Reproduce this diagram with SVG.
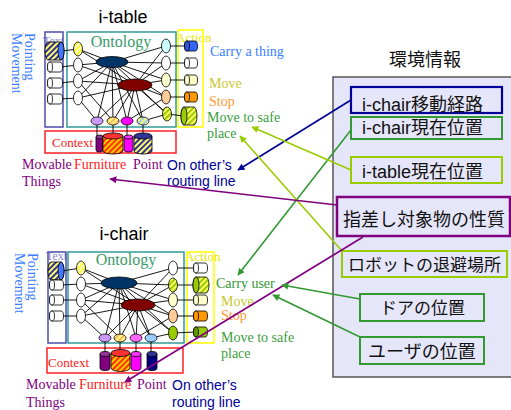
<svg xmlns="http://www.w3.org/2000/svg" width="511" height="410" viewBox="0 0 511 410">
<style>
.title{font-family:"Liberation Sans",Arial,sans-serif;font-size:18px;fill:#000;text-anchor:middle}
.serif{font-family:"Liberation Serif","Times New Roman",serif}
.sans{font-family:"Liberation Sans",Arial,sans-serif}
.jp{font-family:"Liberation Sans","Noto Sans CJK JP",sans-serif;fill:#111}
.web line{stroke:#000;stroke-width:0.9}
.ln{stroke:#000;stroke-width:1}
.o{stroke:#000;stroke-width:0.8}
.conn{fill:none;stroke-width:1.6}
</style>
<defs>
<pattern id="pYB" width="4" height="4" patternUnits="userSpaceOnUse" patternTransform="rotate(45)"><rect width="4" height="4" fill="#ffff66"/><rect width="2" height="4" fill="#333399"/></pattern>
<pattern id="pRY" width="4" height="4" patternUnits="userSpaceOnUse" patternTransform="rotate(45)"><rect width="4" height="4" fill="#ffcc00"/><rect width="2" height="4" fill="#ff3300"/></pattern>
<pattern id="pGY" width="4" height="4" patternUnits="userSpaceOnUse" patternTransform="rotate(45)"><rect width="4" height="4" fill="#ffff66"/><rect width="2" height="4" fill="#99cc00"/></pattern>
<pattern id="pPY" width="4" height="4" patternUnits="userSpaceOnUse" patternTransform="rotate(45)"><rect width="4" height="4" fill="#ffff66"/><rect width="2" height="4" fill="#ffb380"/></pattern>
<pattern id="pBY" width="4" height="4" patternUnits="userSpaceOnUse" patternTransform="rotate(45)"><rect width="4" height="4" fill="#ffff66"/><rect width="2" height="4" fill="#99ccff"/></pattern>
<pattern id="pYW" width="4" height="4" patternUnits="userSpaceOnUse" patternTransform="rotate(45)"><rect width="4" height="4" fill="#ffffcc"/><rect width="2" height="4" fill="#ffff33"/></pattern>
<marker id="aNavy" viewBox="0 0 10 10" refX="9" refY="5" markerWidth="8" markerHeight="7" orient="auto" markerUnits="userSpaceOnUse"><path d="M0,0 L10,5 L0,10 z" fill="#000099"/></marker>
<marker id="aGreen" viewBox="0 0 10 10" refX="9" refY="5" markerWidth="8" markerHeight="7" orient="auto" markerUnits="userSpaceOnUse"><path d="M0,0 L10,5 L0,10 z" fill="#339933"/></marker>
<marker id="aYG" viewBox="0 0 10 10" refX="9" refY="5" markerWidth="8" markerHeight="7" orient="auto" markerUnits="userSpaceOnUse"><path d="M0,0 L10,5 L0,10 z" fill="#99cc00"/></marker>
<marker id="aPurple" viewBox="0 0 10 10" refX="9" refY="5" markerWidth="8" markerHeight="7" orient="auto" markerUnits="userSpaceOnUse"><path d="M0,0 L10,5 L0,10 z" fill="#800080"/></marker>
</defs>
<rect width="511" height="410" fill="#fff"/>

<!-- ================= i-table ================= -->
<g id="itable">
<text class="title" x="123" y="23">i-table</text>
<text class="serif" font-size="14" fill="#3b7dff" transform="translate(25,33) rotate(90)">Pointing</text>
<text class="serif" font-size="14" fill="#3b7dff" transform="translate(12,33) rotate(90)">Movement</text>
<text class="serif" font-size="12" fill="#8888cc" x="43" y="45">Text</text>
<rect x="45" y="32" width="18" height="95" fill="none" stroke="#4d4dab" stroke-width="1.5"/>
<rect x="67" y="32" width="109" height="95" fill="none" stroke="#339999" stroke-width="1.5"/>
<text class="serif" font-size="13" fill="#e6e600" x="176" y="42">Action</text>
<rect x="178" y="30" width="25" height="97" fill="none" stroke="#ffff00" stroke-width="1.5"/>
<text class="serif" font-size="16" fill="#3a9a6a" x="121" y="47" text-anchor="middle">Ontology</text>
<rect x="45" y="131" width="131" height="22" fill="none" stroke="#ff2020" stroke-width="1.5"/>
<text class="serif" font-size="13" fill="#ff2020" x="52" y="147">Context</text>
<g class="web">
<line x1="78" y1="49" x2="112" y2="62"/><line x1="78" y1="65" x2="112" y2="62"/><line x1="78" y1="81" x2="112" y2="62"/><line x1="78" y1="98" x2="112" y2="62"/>
<line x1="78" y1="49" x2="135" y2="85"/><line x1="78" y1="65" x2="135" y2="85"/><line x1="78" y1="81" x2="135" y2="85"/><line x1="78" y1="98" x2="135" y2="85"/>
<line x1="166" y1="46" x2="112" y2="62"/><line x1="166" y1="63" x2="112" y2="62"/><line x1="166" y1="80" x2="112" y2="62"/><line x1="166" y1="97" x2="112" y2="62"/><line x1="167" y1="114" x2="112" y2="62"/>
<line x1="166" y1="46" x2="135" y2="85"/><line x1="166" y1="63" x2="135" y2="85"/><line x1="166" y1="80" x2="135" y2="85"/><line x1="166" y1="97" x2="135" y2="85"/><line x1="167" y1="114" x2="135" y2="85"/>
<line x1="112" y1="62" x2="97" y2="121"/><line x1="112" y1="62" x2="113" y2="121"/><line x1="112" y1="62" x2="127" y2="121"/><line x1="112" y1="62" x2="143" y2="121"/>
<line x1="135" y1="85" x2="97" y2="121"/><line x1="135" y1="85" x2="113" y2="121"/><line x1="135" y1="85" x2="127" y2="121"/><line x1="135" y1="85" x2="143" y2="121"/>
<line x1="78" y1="98" x2="97" y2="121"/><line x1="78" y1="81" x2="113" y2="121"/><line x1="167" y1="114" x2="143" y2="121"/><line x1="166" y1="97" x2="127" y2="121"/>
<line x1="62" y1="51" x2="78" y2="49"/><line x1="60" y1="67" x2="78" y2="65"/><line x1="60" y1="83" x2="78" y2="81"/><line x1="60" y1="99" x2="78" y2="98"/>
<line x1="166" y1="46" x2="187" y2="46"/><line x1="166" y1="63" x2="187" y2="63"/><line x1="166" y1="80" x2="187" y2="80"/><line x1="166" y1="97" x2="187" y2="97"/><line x1="167" y1="114" x2="184" y2="116"/>
<line x1="97" y1="121" x2="97" y2="140"/><line x1="113" y1="121" x2="113" y2="140"/><line x1="127" y1="121" x2="127" y2="140"/><line x1="143" y1="121" x2="143" y2="140"/>
</g>
<!-- left cylinders -->
<path class="o" d="M48,42 H61 A3,9 0 0 1 61,60 H48 A3,9 0 0 1 48,42 Z" fill="url(#pYB)"/>
<ellipse class="o" cx="61" cy="51" rx="3" ry="9" fill="#4477ff"/>
<path class="o" d="M50,62 H60 A2.5,5 0 0 1 60,72 H50 A2.5,5 0 0 1 50,62 Z" fill="#fff"/><ellipse class="o" cx="50" cy="67" rx="2.5" ry="5" fill="#fff"/>
<path class="o" d="M50,78 H60 A2.5,5 0 0 1 60,88 H50 A2.5,5 0 0 1 50,78 Z" fill="#fff"/><ellipse class="o" cx="50" cy="83" rx="2.5" ry="5" fill="#fff"/>
<path class="o" d="M50,94 H60 A2.5,5 0 0 1 60,104 H50 A2.5,5 0 0 1 50,94 Z" fill="#fff"/><ellipse class="o" cx="50" cy="99" rx="2.5" ry="5" fill="#fff"/>
<!-- left ellipses -->
<ellipse class="o" cx="78" cy="49" rx="4.5" ry="7" fill="url(#pYW)"/>
<ellipse class="o" cx="78" cy="65" rx="4.5" ry="7" fill="#fff"/>
<ellipse class="o" cx="78" cy="81" rx="4.5" ry="7" fill="#fff"/>
<ellipse class="o" cx="78" cy="98" rx="4.5" ry="7" fill="#fff"/>
<ellipse class="o" cx="112" cy="62" rx="16" ry="5.5" fill="#003366"/>
<ellipse class="o" cx="135" cy="85" rx="17" ry="6" fill="#800000"/>
<!-- right ellipses -->
<ellipse class="o" cx="166" cy="46" rx="4.5" ry="7" fill="#ccffff"/>
<ellipse class="o" cx="166" cy="63" rx="4.5" ry="7" fill="#fff"/>
<ellipse class="o" cx="166" cy="80" rx="4.5" ry="7" fill="#ffffcc"/>
<ellipse class="o" cx="166" cy="97" rx="4.5" ry="7" fill="#ffcc99"/>
<ellipse class="o" cx="167" cy="114" rx="4.5" ry="7" fill="url(#pGY)"/>
<!-- right cylinders -->
<path class="o" d="M187,41 H195 A2.5,5 0 0 1 195,51 H187 A2.5,5 0 0 1 187,41 Z" fill="#3366ff"/><ellipse class="o" cx="187" cy="46" rx="2.5" ry="5" fill="#3355dd"/>
<path class="o" d="M187,58 H195 A2.5,5 0 0 1 195,68 H187 A2.5,5 0 0 1 187,58 Z" fill="#fff"/><ellipse class="o" cx="187" cy="63" rx="2.5" ry="5" fill="#fff"/>
<path class="o" d="M187,75 H195 A2.5,5 0 0 1 195,85 H187 A2.5,5 0 0 1 187,75 Z" fill="#ffffcc"/><ellipse class="o" cx="187" cy="80" rx="2.5" ry="5" fill="#ffffcc"/>
<path class="o" d="M187,92 H195 A2.5,5 0 0 1 195,102 H187 A2.5,5 0 0 1 187,92 Z" fill="#ff9900"/><ellipse class="o" cx="187" cy="97" rx="2.5" ry="5" fill="#ff9900"/>
<path class="o" d="M184,107 H194 A3,9 0 0 1 194,125 H184 A3,9 0 0 1 184,107 Z" fill="url(#pGY)"/><ellipse class="o" cx="184" cy="116" rx="3" ry="9" fill="#99cc00"/>
<!-- bottom ellipses -->
<ellipse class="o" cx="97" cy="121" rx="6" ry="4" fill="#cc99ff"/>
<ellipse class="o" cx="113" cy="121" rx="6" ry="4" fill="url(#pPY)"/>
<ellipse class="o" cx="127" cy="121" rx="6" ry="4" fill="#ff00ff"/>
<ellipse class="o" cx="143" cy="121" rx="6" ry="4" fill="url(#pBY)"/>
<!-- context cylinders -->
<path class="o" d="M96,137 V150 A3.5,2 0 0 0 103,150 V137 Z" fill="#800080"/><ellipse class="o" cx="99.5" cy="137" rx="3.5" ry="2" fill="#993399"/>
<path class="o" d="M103,136 V151 A10,3 0 0 0 123,151 V136 Z" fill="url(#pRY)"/><ellipse class="o" cx="113" cy="136" rx="10" ry="3" fill="#ff3333"/>
<path class="o" d="M124,137 V150 A4.5,2 0 0 0 133,150 V137 Z" fill="#ff00ff"/><ellipse class="o" cx="128.5" cy="137" rx="4.5" ry="2" fill="#ff33ff"/>
<path class="o" d="M134,136 V151 A9,3 0 0 0 152,151 V136 Z" fill="url(#pYB)"/><ellipse class="o" cx="143" cy="136" rx="9" ry="3" fill="#333399"/>
<!-- labels -->
<text class="serif" font-size="14" fill="#3a7fff" x="210" y="56">Carry a thing</text>
<text class="serif" font-size="14" fill="#c8c832" x="209" y="88">Move</text>
<text class="serif" font-size="14" fill="#ff9933" x="209" y="106">Stop</text>
<text class="serif" font-size="14" fill="#3aa040" x="207" y="122">Move to safe</text>
<text class="serif" font-size="14" fill="#3aa040" x="207" y="138">place</text>
<text class="serif" font-size="14" fill="#800080" x="22" y="169">Movable</text>
<text class="serif" font-size="14" fill="#800080" x="22" y="186">Things</text>
<text class="serif" font-size="14" fill="#ff2020" x="74" y="169">Furniture</text>
<text class="serif" font-size="14" fill="#800080" x="133" y="169">Point</text>
<text class="sans" font-size="14" fill="#000099" x="167" y="170">On other’s</text>
<text class="sans" font-size="14" fill="#000099" x="167" y="186">routing line</text>
</g>

<!-- ================= i-chair ================= -->
<g id="ichair">
<text class="title" x="124" y="240">i-chair</text>
<text class="serif" font-size="14" fill="#3b7dff" transform="translate(28,253) rotate(90)">Pointing</text>
<text class="serif" font-size="14" fill="#3b7dff" transform="translate(15,253) rotate(90)">Movement</text>
<text class="serif" font-size="12" fill="#8888cc" x="46" y="260">Text</text>
<rect x="48" y="252" width="18" height="91" fill="none" stroke="#4d4dab" stroke-width="1.5"/>
<rect x="68" y="252" width="116" height="91" fill="none" stroke="#339999" stroke-width="1.5"/>
<text class="serif" font-size="13" fill="#e6e600" x="185" y="261">Action</text>
<rect x="187" y="252" width="27" height="91" fill="none" stroke="#ffff00" stroke-width="1.5"/>
<text class="serif" font-size="16" fill="#3a9a6a" x="126" y="265" text-anchor="middle">Ontology</text>
<rect x="47" y="348" width="136" height="25" fill="none" stroke="#ff2020" stroke-width="1.5"/>
<text class="serif" font-size="13" fill="#ff2020" x="48" y="367">Context</text>
<g class="web">
<line x1="81" y1="268" x2="119" y2="283"/><line x1="81" y1="284" x2="119" y2="283"/><line x1="81" y1="300" x2="119" y2="283"/><line x1="81" y1="316" x2="119" y2="283"/>
<line x1="81" y1="268" x2="138" y2="305"/><line x1="81" y1="284" x2="138" y2="305"/><line x1="81" y1="300" x2="138" y2="305"/><line x1="81" y1="316" x2="138" y2="305"/>
<line x1="173" y1="268" x2="119" y2="283"/><line x1="173" y1="285" x2="119" y2="283"/><line x1="173" y1="300" x2="119" y2="283"/><line x1="173" y1="316" x2="119" y2="283"/><line x1="173" y1="333" x2="119" y2="283"/>
<line x1="173" y1="268" x2="138" y2="305"/><line x1="173" y1="285" x2="138" y2="305"/><line x1="173" y1="300" x2="138" y2="305"/><line x1="173" y1="316" x2="138" y2="305"/><line x1="173" y1="333" x2="138" y2="305"/>
<line x1="119" y1="283" x2="105" y2="338"/><line x1="119" y1="283" x2="120" y2="338"/><line x1="119" y1="283" x2="136" y2="338"/><line x1="119" y1="283" x2="151" y2="338"/>
<line x1="138" y1="305" x2="105" y2="338"/><line x1="138" y1="305" x2="120" y2="338"/><line x1="138" y1="305" x2="136" y2="338"/><line x1="138" y1="305" x2="151" y2="338"/>
<line x1="81" y1="316" x2="105" y2="338"/><line x1="81" y1="300" x2="120" y2="338"/><line x1="173" y1="333" x2="151" y2="338"/><line x1="173" y1="316" x2="136" y2="338"/>
<line x1="62" y1="271" x2="81" y2="268"/><line x1="61" y1="285" x2="81" y2="284"/><line x1="61" y1="300" x2="81" y2="300"/><line x1="61" y1="316" x2="81" y2="316"/>
<line x1="173" y1="268" x2="196" y2="268"/><line x1="173" y1="285" x2="196" y2="285"/><line x1="173" y1="300" x2="196" y2="300"/><line x1="173" y1="316" x2="196" y2="316"/><line x1="173" y1="333" x2="196" y2="332"/>
<line x1="105" y1="338" x2="105" y2="356"/><line x1="120" y1="338" x2="120" y2="356"/><line x1="136" y1="338" x2="136" y2="356"/><line x1="151" y1="338" x2="151" y2="356"/>
</g>
<path class="o" d="M51,262 H61 A3,9 0 0 1 61,280 H51 A3,9 0 0 1 51,262 Z" fill="url(#pYB)"/>
<ellipse class="o" cx="61" cy="271" rx="3" ry="9" fill="#4477ff"/>
<path class="o" d="M52,280 H61 A2.5,5 0 0 1 61,290 H52 A2.5,5 0 0 1 52,280 Z" fill="#fff"/><ellipse class="o" cx="52" cy="285" rx="2.5" ry="5" fill="#fff"/>
<path class="o" d="M52,295 H61 A2.5,5 0 0 1 61,305 H52 A2.5,5 0 0 1 52,295 Z" fill="#fff"/><ellipse class="o" cx="52" cy="300" rx="2.5" ry="5" fill="#fff"/>
<path class="o" d="M52,311 H61 A2.5,5 0 0 1 61,321 H52 A2.5,5 0 0 1 52,311 Z" fill="#fff"/><ellipse class="o" cx="52" cy="316" rx="2.5" ry="5" fill="#fff"/>
<ellipse class="o" cx="81" cy="268" rx="4.5" ry="7" fill="url(#pYW)"/>
<ellipse class="o" cx="81" cy="284" rx="4.5" ry="7" fill="#fff"/>
<ellipse class="o" cx="81" cy="300" rx="4.5" ry="7" fill="#fff"/>
<ellipse class="o" cx="81" cy="316" rx="4.5" ry="7" fill="#fff"/>
<ellipse class="o" cx="119" cy="283" rx="18" ry="6" fill="#003366"/>
<ellipse class="o" cx="138" cy="305" rx="17" ry="6" fill="#800000"/>
<ellipse class="o" cx="173" cy="268" rx="4.5" ry="7" fill="#fff"/>
<ellipse class="o" cx="173" cy="285" rx="4.5" ry="7" fill="url(#pGY)"/>
<ellipse class="o" cx="173" cy="300" rx="4.5" ry="7" fill="#ffffcc"/>
<ellipse class="o" cx="173" cy="316" rx="4.5" ry="7" fill="#ffcc99"/>
<ellipse class="o" cx="173" cy="333" rx="4.5" ry="7" fill="#99cc00"/>
<path class="o" d="M196,263 H205 A2.5,5 0 0 1 205,273 H196 A2.5,5 0 0 1 196,263 Z" fill="#fff"/><ellipse class="o" cx="196" cy="268" rx="2.5" ry="5" fill="#fff"/>
<path class="o" d="M196,277 H206 A3,8 0 0 1 206,293 H196 A3,8 0 0 1 196,277 Z" fill="url(#pGY)"/><ellipse class="o" cx="196" cy="285" rx="3" ry="8" fill="#99cc00"/>
<path class="o" d="M196,295 H205 A2.5,5 0 0 1 205,305 H196 A2.5,5 0 0 1 196,295 Z" fill="#ffffcc"/><ellipse class="o" cx="196" cy="300" rx="2.5" ry="5" fill="#ffffcc"/>
<path class="o" d="M196,311 H205 A2.5,5 0 0 1 205,321 H196 A2.5,5 0 0 1 196,311 Z" fill="#ff9900"/><ellipse class="o" cx="196" cy="316" rx="2.5" ry="5" fill="#ff9900"/>
<path class="o" d="M196,327 H205 A2.5,5 0 0 1 205,337 H196 A2.5,5 0 0 1 196,327 Z" fill="#99cc00"/><ellipse class="o" cx="196" cy="332" rx="2.5" ry="5" fill="#669900"/>
<ellipse class="o" cx="105" cy="338" rx="6" ry="4" fill="#cc99ff"/>
<ellipse class="o" cx="120" cy="338" rx="6" ry="4" fill="url(#pPY)"/>
<ellipse class="o" cx="136" cy="338" rx="6" ry="4" fill="#ff66ff"/>
<ellipse class="o" cx="151" cy="338" rx="6" ry="4" fill="#99ccff"/>
<path class="o" d="M100,354 V368 A5,2.5 0 0 0 110,368 V354 Z" fill="#800080"/><ellipse class="o" cx="105" cy="354" rx="5" ry="2.5" fill="#993399"/>
<path class="o" d="M111,353 V368 A9.5,3.5 0 0 0 130,368 V353 Z" fill="url(#pRY)"/><ellipse class="o" cx="120.5" cy="353" rx="9.5" ry="3.5" fill="#ff3333"/>
<path class="o" d="M131,354 V368 A5,2.5 0 0 0 141,368 V354 Z" fill="#ff00ff"/><ellipse class="o" cx="136" cy="354" rx="5" ry="2.5" fill="#ff33ff"/>
<path class="o" d="M147,354 V368 A5,2.5 0 0 0 157,368 V354 Z" fill="#000080"/><ellipse class="o" cx="152" cy="354" rx="5" ry="2.5" fill="#333399"/>
<text class="serif" font-size="14" fill="#339933" x="216" y="288">Carry user</text>
<text class="serif" font-size="14" fill="#c8c832" x="221" y="306">Move</text>
<text class="serif" font-size="14" fill="#ff9933" x="221" y="320">Stop</text>
<text class="serif" font-size="14" fill="#3aa040" x="221" y="342">Move to safe</text>
<text class="serif" font-size="14" fill="#3aa040" x="221" y="358">place</text>
<text class="serif" font-size="14" fill="#800080" x="26" y="389">Movable</text>
<text class="serif" font-size="14" fill="#800080" x="26" y="407">Things</text>
<text class="serif" font-size="14" fill="#ff2020" x="79" y="389">Furniture</text>
<text class="serif" font-size="14" fill="#800080" x="137" y="389">Point</text>
<text class="sans" font-size="14" fill="#000099" x="172" y="390">On other’s</text>
<text class="sans" font-size="14" fill="#000099" x="172" y="407">routing line</text>
</g>

<!-- ================= environment panel ================= -->
<g id="env">
<text class="jp" font-size="18" x="425" y="66" text-anchor="middle">環境情報</text>
<rect x="333" y="77" width="190" height="300" fill="#e6e6fa" stroke="#555" stroke-width="1.5"/>
</g>
<g id="ichair-route"><rect x="351" y="87" width="151" height="26" fill="none" stroke="#000099" stroke-width="2.2"/><text class="jp" font-size="18" x="362" y="111">i-chair移動経路</text></g>
<g id="ichair-pos"><rect x="351" y="117" width="151" height="22" fill="none" stroke="#339933" stroke-width="2"/><text class="jp" font-size="18" x="362" y="134">i-chair現在位置</text></g>
<g id="itable-pos"><rect x="351" y="157" width="151" height="26" fill="none" stroke="#99cc00" stroke-width="2"/><text class="jp" font-size="18" x="362" y="178">i-table現在位置</text></g>
<g id="pointing-target"><rect x="337" y="197" width="173" height="39" fill="none" stroke="#800080" stroke-width="2.5"/><text class="jp" font-size="18" x="343" y="226">指差し対象物の性質</text></g>
<g id="robot-refuge"><rect x="342" y="251" width="165" height="26" fill="none" stroke="#99cc00" stroke-width="2"/><text class="jp" font-size="17" x="348" y="271">ロボットの退避場所</text></g>
<g id="door-pos"><rect x="360" y="294" width="124" height="27" fill="none" stroke="#339933" stroke-width="2"/><text class="jp" font-size="17" x="380" y="314">ドアの位置</text></g>
<g id="user-pos"><rect x="360" y="337" width="124" height="27" fill="none" stroke="#339933" stroke-width="2"/><text class="jp" font-size="18" x="368" y="358">ユーザの位置</text></g>

<!-- ================= connectors ================= -->
<g id="connectors">
<line class="conn" x1="351" y1="100" x2="238" y2="170" stroke="#000099" marker-end="url(#aNavy)"/>
<line class="conn" x1="351" y1="130" x2="238" y2="275" stroke="#339933" marker-end="url(#aGreen)"/>
<line class="conn" x1="351" y1="170" x2="252" y2="127" stroke="#99cc00" marker-end="url(#aYG)"/>
<line class="conn" x1="342" y1="251" x2="240" y2="136" stroke="#99cc00" marker-end="url(#aYG)"/>
<line class="conn" x1="337" y1="205" x2="110" y2="179" stroke="#800080" marker-end="url(#aPurple)"/>
<line class="conn" x1="363" y1="237" x2="125" y2="382" stroke="#800080" marker-end="url(#aPurple)"/>
<line class="conn" x1="360" y1="299" x2="282" y2="285" stroke="#339933" marker-end="url(#aGreen)"/>
<line class="conn" x1="360" y1="337" x2="273" y2="295" stroke="#339933" marker-end="url(#aGreen)"/>
</g>
</svg>
